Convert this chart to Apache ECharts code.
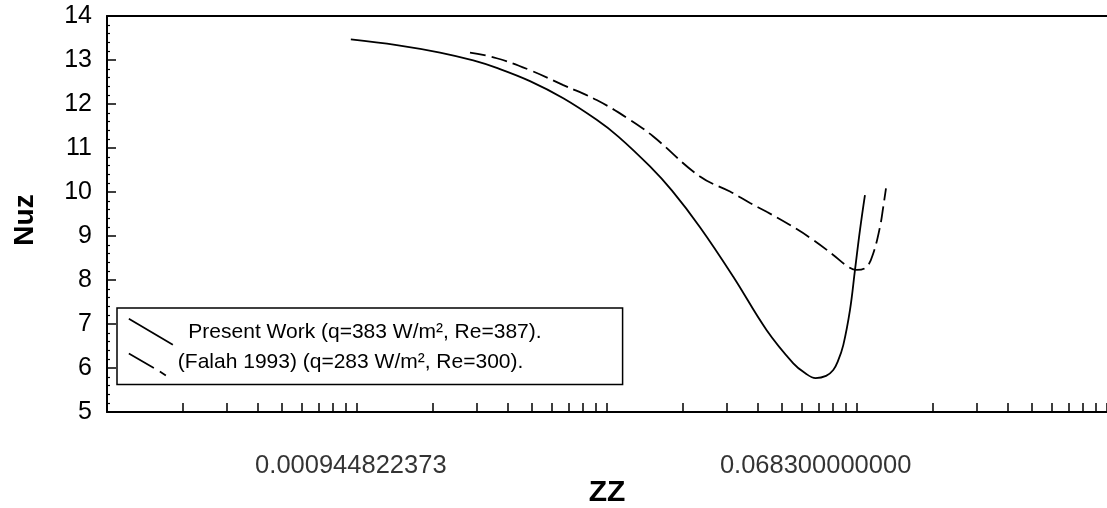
<!DOCTYPE html>
<html>
<head>
<meta charset="utf-8">
<script src="https://cdn.jsdelivr.net/npm/echarts@6/dist/echarts.min.js"></script>
<style>
html,body{margin:0;padding:0;background:#fff;}
#chart{width:1107px;height:508px;}
</style>
</head>
<body>
<div id="chart"></div>
<script>
// ---- data ----
const presentName = '\u2002Present Work (q=383 W/m\u00b2, Re=387).';
const falahName = '(Falah 1993) (q=283 W/m\u00b2, Re=300).';

const zzPresent = [0.000944822373, 0.001442, 0.002148, 0.002918, 0.003622, 0.00492, 0.006687, 0.009095, 0.0111, 0.01486, 0.0182, 0.02355, 0.032, 0.04352, 0.05561, 0.06194, 0.0683, 0.0752, 0.08036, 0.08395, 0.08813, 0.09376, 0.09817, 0.1028, 0.1076];
const nuzPresent = [13.47, 13.34, 13.17, 12.99, 12.82, 12.52, 12.13, 11.64, 11.26, 10.58, 10.03, 9.2, 8.075, 6.86, 6.107, 5.886, 5.77, 5.82, 5.955, 6.16, 6.52, 7.32, 8.23, 9.14, 9.93];

const zzFalah = [0.002831, 0.003622, 0.00492, 0.006687, 0.009095, 0.01236, 0.01532, 0.02355, 0.03105, 0.03733, 0.04352, 0.05395, 0.06687, 0.08036, 0.09232, 0.09972, 0.1093, 0.1162, 0.1236, 0.1274, 0.1306];
const nuzFalah = [13.17, 13.04, 12.77, 12.43, 12.09, 11.64, 11.26, 10.35, 10.01, 9.75, 9.55, 9.25, 8.91, 8.57, 8.30, 8.23, 8.30, 8.61, 9.21, 9.67, 10.08];

const xTickValues = [0.000944822373, 0.0683];
const xTickLabels = ['0.000944822373', '0.068300000000'];

const xTitle = 'ZZ';
const yTitle = 'Nuz';

// ---- chart ----
const FONT = '"Liberation Sans", Arial, Helvetica, sans-serif';
const pairs = (xs, ys) => xs.map((x, i) => [x, ys[i]]);

const chart = echarts.init(document.getElementById('chart'), null, {renderer: 'canvas'});
chart.setOption({
  animation: false,
  backgroundColor: '#fff',
  grid: {left: 107, right: 0, top: 16, bottom: 96, containLabel: false, outerBoundsMode: 'none'},
  xAxis: [{
    type: 'log', logBase: 10, min: 0.0001, max: 1, splitNumber: 4,
    name: xTitle, nameLocation: 'middle', nameGap: 66,
    nameTextStyle: {fontFamily: FONT, fontSize: 30, fontWeight: 'bold', color: '#000'},
    axisLine: {show: true, onZero: false, lineStyle: {color: '#000', width: 2}},
    axisTick: {show: true, inside: true, length: 9, lineStyle: {color: '#000', width: 1.5}},
    minorTick: {show: true, splitNumber: 9, length: 9, lineStyle: {color: '#000', width: 1.5}},
    axisLabel: {show: false},
    splitLine: {show: false}, minorSplitLine: {show: false}
  }, {
    type: 'value', min: 0, max: 1, position: 'top',
    axisLine: {show: true, onZero: false, lineStyle: {color: '#000', width: 2}},
    axisTick: {show: false}, axisLabel: {show: false}, splitLine: {show: false}
  }],
  yAxis: {
    type: 'value', min: 5, max: 14, interval: 1,
    name: yTitle, nameLocation: 'middle', nameGap: 68, nameRotate: 90,
    nameTextStyle: {fontFamily: FONT, fontSize: 28, fontWeight: 'bold', color: '#000', padding: [0, 12, 0, 0]},
    axisLine: {show: true, onZero: false, lineStyle: {color: '#000', width: 2}},
    axisTick: {show: true, inside: true, length: 9, lineStyle: {color: '#000', width: 1.5}},
    minorTick: {show: true, splitNumber: 5, length: 3, lineStyle: {color: '#000', width: 1.2}},
    axisLabel: {fontFamily: FONT, fontSize: 25, color: '#000', margin: 15},
    splitLine: {show: false}
  },
  legend: {
    orient: 'vertical', left: 117, top: 308,
    padding: [10, 81, 8, 11], itemGap: 3, itemWidth: 44, itemHeight: 26,
    backgroundColor: '#fff', borderColor: '#000', borderWidth: 1.5, borderRadius: 0,
    selectedMode: false,
    textStyle: {fontFamily: FONT, fontSize: 21, color: '#000'},
    data: [
      {name: presentName, icon: 'path://M0,0L44,26',
       itemStyle: {color: 'transparent', borderColor: '#000', borderWidth: 1.7}},
      {name: falahName, icon: 'path://M0,0M0,4L25,18.5M31,22L37,26M44,26',
       itemStyle: {color: 'transparent', borderColor: '#000', borderWidth: 1.7}}
    ]
  },
  series: [
    {
      name: presentName, type: 'line', data: pairs(zzPresent, nuzPresent),
      symbol: 'none', smooth: 0.4,
      lineStyle: {color: '#000', width: 1.8, type: 'solid'},
      itemStyle: {color: '#000'}
    },
    {
      name: falahName, type: 'line', data: pairs(zzFalah, nuzFalah),
      symbol: 'none', smooth: 0.4,
      lineStyle: {color: '#000', width: 1.8, type: [16, 6]},
      itemStyle: {color: '#000'}
    },
    {
      name: 'xTickLabels', type: 'scatter', symbolSize: 0, clip: false, silent: true,
      data: xTickValues.map((v, i) => ({value: [v, 5], label: {formatter: xTickLabels[i]}})),
      label: {show: true, position: 'bottom', distance: 41, fontFamily: FONT, fontSize: 25.5, color: '#000'}
    }
  ]
});
</script>
</body>
</html>
